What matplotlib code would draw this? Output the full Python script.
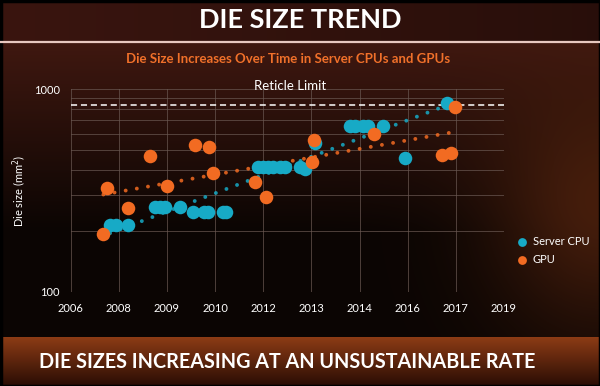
import matplotlib
matplotlib.use("Agg")
import matplotlib.pyplot as plt
import numpy as np

# data (decimal year, die size mm^2)
cpu_year = [2007.84, 2008.01, 2008.36, 2009.12, 2009.26, 2009.40, 2009.83, 2010.19,
            2010.51, 2010.63, 2011.04, 2011.14, 2012.06, 2012.20, 2012.34, 2012.48,
            2012.67, 2012.82, 2013.24, 2013.39, 2013.67, 2014.67, 2014.81, 2015.05,
            2015.19, 2015.61, 2016.23, 2017.42]
cpu_size = [214, 214, 214, 263, 263, 263, 263, 248,
            248, 248, 248, 248, 414, 414, 414, 414,
            414, 414, 412, 405, 540, 657, 657, 657,
            657, 657, 456, 857]

gpu_year = [2007.65, 2007.74, 2008.36, 2008.98, 2009.45, 2010.26, 2010.66, 2010.76,
            2011.96, 2012.27, 2013.58, 2013.64, 2015.35, 2017.28, 2017.53, 2017.66]
gpu_size = [192, 324, 258, 468, 333, 528, 516, 387,
            349, 294, 438, 561, 598, 471, 482, 813]

reticle_limit = 830

# excel-style date axis: first tick and step in years
tick_start = 2006.72
tick_step = 1.37
tick_labels = ['2006', '2008', '2009', '2010', '2012', '2013', '2014', '2016', '2017', '2019']

cpu_color = '#17aac6'
gpu_color = '#f26b22'

plt.rcParams['font.family'] = ['Lato', 'DejaVu Sans']

W, H = 600, 386
fig = plt.figure(figsize=(6, 3.86), dpi=100)

# background
bg = fig.add_axes([0, 0, 1, 1], zorder=-10)
yy, xx = np.mgrid[0:H, 0:W]
top = np.array([0x40, 0x18, 0x10]) / 255
dark = np.array([0x0b, 0x05, 0x03]) / 255
glow = np.array([0x45, 0x1d, 0x0c]) / 255
t = np.clip((yy - 40) / 190.0, 0, 1)[..., None]
img = top * (1 - t) + dark * t
g = np.exp(-(((xx - 600) / 110.0) ** 2 + ((yy - 200) / 130.0) ** 2))[..., None]
img = img * (1 - g) + glow * g
# title band
tb = (yy < 42)[..., None]
band_top = np.array([0x3a, 0x15, 0x0f]) / 255 * (1 - 0.3 * (xx / W))[..., None]
img = np.where(tb, band_top, img)
# bottom band
bb = (yy >= 337)[..., None]
tt = np.clip((yy - 337) / 49.0, 0, 1)[..., None]
b1 = np.array([0x8c, 0x3b, 0x15]) / 255
b2 = np.array([0x28, 0x0c, 0x04]) / 255
img = np.where(bb, b1 * (1 - tt) + b2 * tt, img)
bg.imshow(img, extent=[0, W, H, 0], aspect='auto')
bg.axhline(41.5, color='#e8c8c0', lw=1.6)
bg.set_xlim(0, W)
bg.set_ylim(H, 0)
bg.axis('off')
bg.add_patch(plt.Rectangle((0.5, 0.5), W - 1, H - 1, fill=False, ec='black', lw=2.5))

fig.text(0.5, 1 - 20 / H, 'DIE SIZE TREND', ha='center', va='center',
         color='white', fontsize=19.5, fontweight='bold')
fig.text(288 / W, 1 - 59 / H, 'Die Size Increases Over Time in Server CPUs and GPUs',
         ha='center', va='center', color='#f0702a', fontsize=9.5, fontweight='bold')
fig.text(287 / W, 1 - 362 / H, 'DIE SIZES INCREASING AT AN UNSUSTAINABLE RATE',
         ha='center', va='center', color='white', fontsize=14.2, fontweight='bold')

ax = fig.add_axes([70.7 / W, (H - 292) / H, 433.3 / W, 203 / H])
ax.set_facecolor('none')
ax.set_yscale('log')
ticks = tick_start + tick_step * np.arange(len(tick_labels))
ax.set_xlim(ticks[0], ticks[-1])
ax.set_ylim(100, 1000)
ax.set_xticks(ticks)
ax.set_xticklabels(tick_labels)
ax.set_yticks([100, 1000])
ax.set_yticklabels(['100', '1000'])
ax.yaxis.set_minor_locator(matplotlib.ticker.LogLocator(base=10, subs=np.arange(2, 10)))
ax.yaxis.set_minor_formatter(matplotlib.ticker.NullFormatter())
ax.grid(True, which='both', color='#6a5852', lw=0.7, alpha=0.7)
ax.tick_params(which='both', length=0, colors='white', labelsize=8, pad=8)
for s in ax.spines.values():
    s.set_visible(False)
ax.set_ylabel('Die size (mm$^2$)', color='white', fontsize=8, labelpad=4)

ax.axhline(reticle_limit, color='white', lw=1.1, ls=(0, (4, 2.5)), zorder=3)
fig.text(290 / W, 1 - 86 / H, 'Reticle Limit', ha='center', va='center',
         color='white', fontsize=9.5)

# exponential trend lines
for xs, ys, c in [(gpu_year, gpu_size, gpu_color), (cpu_year, cpu_size, cpu_color)]:
    xs = np.array(xs)
    k, b = np.polyfit(xs, np.log10(ys), 1)
    xf = np.linspace(xs.min(), xs.max(), 200)
    ax.plot(xf, 10 ** (k * xf + b), color=c, lw=2.8, ls=(0, (0.01, 2.9)),
            dash_capstyle='round', zorder=2, alpha=0.85)

ax.scatter(cpu_year, cpu_size, s=95, color=cpu_color, zorder=4, label='Server CPU', linewidths=0)
ax.scatter(gpu_year, gpu_size, s=95, color=gpu_color, zorder=5, label='GPU', linewidths=0)

leg = ax.legend(loc='center left', bbox_to_anchor=(1.005, 0.205), frameon=False,
                labelcolor='white', fontsize=8, markerscale=0.65, handletextpad=0.0,
                labelspacing=0.6, borderaxespad=0)

fig.savefig('out.png', dpi=100)
